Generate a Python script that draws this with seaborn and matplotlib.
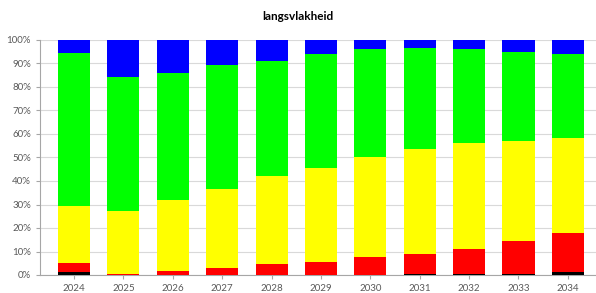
import matplotlib
matplotlib.use("Agg")
import matplotlib.pyplot as plt
import numpy as np
import pandas as pd
import seaborn as sns
from matplotlib.ticker import PercentFormatter

years = ["2024", "2025", "2026", "2027", "2028", "2029", "2030", "2031", "2032", "2033", "2034"]
# share per class in %, bottom to top
black = [1.1, 0.0, 0.0, 0.0, 0.0, 0.0, 0.0, 0.4, 0.4, 0.4, 1.2]
red = [4.1, 0.6, 1.7, 3.1, 4.5, 5.4, 7.5, 8.7, 10.7, 14.2, 16.5]
yellow = [24.2, 26.8, 30.2, 33.6, 37.6, 40.0, 42.6, 44.5, 44.9, 42.5, 40.5]
green = [64.9, 57.0, 54.2, 52.8, 49.1, 48.5, 45.9, 42.9, 40.0, 37.6, 35.8]
blue = [5.7, 15.6, 13.9, 10.5, 8.8, 6.1, 4.0, 3.5, 4.0, 5.3, 6.0]

layers = [
    (black, "#000000"),
    (red, "#FF0000"),
    (yellow, "#FFFF00"),
    (green, "#00FF00"),
    (blue, "#0000FF"),
]

sns.set_theme(style="white")
plt.rcParams["font.family"] = ["Lato", "DejaVu Sans"]

fig = plt.figure(figsize=(5.96, 2.93), dpi=100)
ax = fig.add_axes([40 / 596, 1 - 275 / 293, 1 - 40 / 596, (275 - 40) / 293])

bottom = np.zeros(len(years))
for vals, col in layers:
    df = pd.DataFrame({"year": years, "value": vals})
    sns.barplot(data=df, x="year", y="value", color=col, bottom=bottom,
                width=0.65, saturation=1, linewidth=0, ax=ax, zorder=3)
    bottom = bottom + np.array(vals)

ax.set_ylim(0, 100)
ax.set_xlim(-0.69, 10.57)
ax.set_yticks(np.arange(0, 101, 10))
ax.yaxis.set_major_formatter(PercentFormatter(decimals=0))
ax.grid(axis="y", color="#D9D9D9", linewidth=0.8, zorder=0)
ax.set_xlabel("")
ax.set_ylabel("")

for s in ["top", "right"]:
    ax.spines[s].set_visible(False)
for s in ["left", "bottom"]:
    ax.spines[s].set_color("#A6A6A6")
    ax.spines[s].set_linewidth(0.8)

ax.tick_params(axis="both", which="both", labelsize=7, colors="#595959",
               length=3, width=0.8, direction="out", left=True, bottom=True)
ax.tick_params(axis="both", color="#A6A6A6")

fig.text(0.5, 1 - 17 / 293, "langsvlakheid", ha="center", va="center",
         fontsize=8.5, fontweight="bold", color="#000000")

fig.savefig("out.png", dpi=100)
